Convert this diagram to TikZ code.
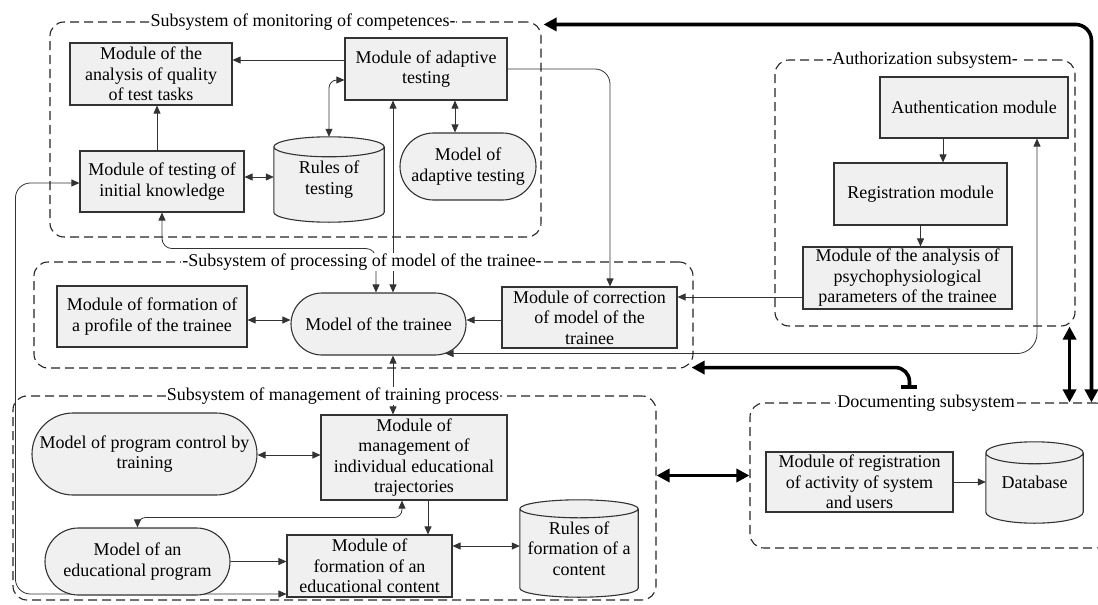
\documentclass[tikz,border=0pt]{standalone}
\usepackage{fontspec}
\setmainfont{Liberation Serif}
\newfontfamily\tnr{Liberation Serif}
\usetikzlibrary{arrows.meta,calc}
\pgfdeclarelayer{back}\pgfdeclarelayer{bg}\pgfdeclarelayer{cyl}\pgfdeclarelayer{fg}
\pgfsetlayers{back,bg,cyl,main,fg}
\newcommand\drawcyl[2]{\draw[cylst] let \p1=(#1.north west), \p2=(#1.south east), \n1={(\x2-\x1)/2} in
  (\x1,\y1-#2) -- (\x1,\y2+#2) arc[start angle=180,end angle=360,x radius=\n1,y radius=#2]
  -- (\x2,\y1-#2) arc[start angle=0,end angle=180,x radius=\n1,y radius=#2] -- cycle
  (\x1,\y1-#2) arc[start angle=180,end angle=360,x radius=\n1,y radius=#2];}
\begin{document}
\begin{tikzpicture}[x=1pt,y=1pt,font=\tnr\fontsize{18}{20.5}\selectfont,
  box/.style={draw=black!80,line width=1.1pt,fill=gray!12,align=center,inner sep=0pt},
  mod/.style={box,rectangle},
  stad/.style={box,rectangle,rounded corners=#1},
  cylbox/.style={rectangle,align=center,inner sep=0pt},
  cylst/.style={draw=black!80,line width=1.1pt,fill=gray!12},
  frame/.style={draw=black!85,line width=1.1pt,dash pattern=on 9pt off 5pt,rounded corners=14pt,inner sep=0pt},
  ttl/.style={fill=white,inner sep=1pt},
  conn/.style={draw=black!80,line width=0.8pt},
  >={Triangle[length=8pt,width=7pt]},
  thk/.style={draw=black,line width=3.6pt},
  tt/.style={{Triangle[length=13pt,width=13pt]}-{Triangle[length=13pt,width=13pt]}}]
\begin{pgfonlayer}{back}
\fill[white] (0,0) rectangle (1098,-605);
\end{pgfonlayer}
\useasboundingbox (0,0) rectangle (1098,-605);

% frames
\node[frame,minimum width=491,minimum height=215] (mon) at (295.5,-129.5) {};
\node[frame,minimum width=659,minimum height=106] (proc) at (363.5,-315) {};
\node[frame,minimum width=300,minimum height=266] (auth) at (925,-193) {};
\node[frame,minimum width=643,minimum height=204] (train) at (334.5,-498) {};
\node[frame,minimum width=360,minimum height=145] (doc) at (930,-475.5) {};

% monitoring
\node[mod,minimum width=162,minimum height=62] (ana) at (151,-74) {Module of the\\analysis of quality\\of test tasks};
\node[mod,minimum width=162,minimum height=62] (adapt) at (426,-69) {Module of adaptive\\testing};
\node[mod,minimum width=164,minimum height=61] (init) at (162,-181.5) {Module of testing of\\initial knowledge};
\node[cylbox,minimum width=110,minimum height=85] (rules) at (329,-179.5) {Rules of\\testing};
\node[stad=33.5pt,minimum width=136,minimum height=67] (madapt) at (468,-166.5) {Model of\\adaptive testing};

% processing
\node[mod,minimum width=190,minimum height=61] (prof) at (152,-316.5) {Module of formation of\\a profile of the trainee};
\node[stad=31pt,minimum width=175,minimum height=62] (trainee) at (378.5,-324) {Model of the trainee};
\node[mod,minimum width=175,minimum height=61] (corr) at (589.5,-317.5) {Module of correction\\of model of the\\trainee};

% authorization
\node[mod,minimum width=188,minimum height=61] (authm) at (974,-107.5) {Authentication module};
\node[mod,minimum width=173,minimum height=62] (reg) at (920.5,-194) {Registration module};
\node[mod,minimum width=209,minimum height=62] (psycho) at (907.5,-278) {Module of the analysis of\\psychophysiological\\parameters of the trainee};

% training
\node[stad=41pt,minimum width=225,minimum height=82] (prog) at (144.5,-454) {Model of program control by\\training};
\node[mod,minimum width=186,minimum height=85] (mgmt) at (414,-457.5) {Module of\\management of\\individual educational\\trajectories};
\node[stad=33.5pt,minimum width=185,minimum height=67] (med) at (137.5,-561.5) {Model of an\\educational program};
\node[mod,minimum width=165,minimum height=62] (form) at (369.5,-566) {Module of\\formation of an\\educational content};
\node[cylbox,minimum width=118,minimum height=97] (rform) at (579,-548.5) {Rules of\\formation of a\\content};

% documenting
\node[mod,minimum width=187,minimum height=60] (dreg) at (859.5,-482) {Module of registration\\of activity of system\\and users};
\node[cylbox,minimum width=97,minimum height=81] (db) at (1034.5,-482.5) {Database};

\begin{pgfonlayer}{cyl}
\drawcyl{rules}{10pt}
\drawcyl{rform}{9pt}
\drawcyl{db}{11pt}
\end{pgfonlayer}

\begin{pgfonlayer}{bg}
% monitoring
\draw[conn,->] ($(adapt.west)+(0,9)$) coordinate (c1) -- (c1 -| ana.east);
\draw[conn,->] ($(init.north)+(-5,0)$) coordinate (c2) -- (c2 |- ana.south);
\draw[conn,<->] ($(init.east)+(0,4.5)$) coordinate (c3) -- (c3 -| rules.west);
\draw[conn,<->,rounded corners=8] (rules.north) |- ($(adapt.west)+(0,-11)$);
\draw[conn,<->] ($(adapt.south)+(29,0)$) coordinate (c5) -- (c5 |- madapt.north);
\draw[conn,<->] ($(adapt.south)+(-33,0)$) coordinate (c6) -- (c6 |- trainee.north);
\draw[conn,<->,rounded corners=10] (init.south) -- ++(0,-36) -| ($(trainee.north)+(-2.5,0)$);
\draw[conn,->,rounded corners=15] (adapt.east) -| ($(corr.north)+(20.5,0)$);
% processing
\draw[conn,<->] ($(prof.east)+(0,-3.5)$) coordinate (c9) -- (c9 -| trainee.west);
\draw[conn,->] ($(corr.west)+(0,-2.5)$) coordinate (c10) -- (c10 -| trainee.east);
\draw[conn,->] ($(psycho.west)+(0,-19)$) coordinate (c11) -- (c11 -| corr.east);
\draw[conn,<->,rounded corners=20] ($(trainee.south)+(67,2)$) -| ($(authm.south)+(63,0)$);
% authorization
\draw[conn,->] ($(authm.south)+(-31,0)$) coordinate (c13) -- (c13 |- reg.north);
\draw[conn,->] (reg.south) -- (reg.south |- psycho.north);
% training
\draw[conn,<->] ($(trainee.south)+(14.5,0)$) coordinate (c15) -- (c15 |- mgmt.north);
\draw[conn,<->] ($(prog.east)+(0,-1)$) coordinate (c16) -- (c16 -| mgmt.west);
\draw[conn,<->,rounded corners=8] ($(mgmt.south)+(-12,0)$) -- ++(0,-17) -| (med.north);
\draw[conn,->] ($(mgmt.south)+(14,0)$) coordinate (c18) -- (c18 |- form.north);
\draw[conn,->] (med.east) -- (med.east -| form.west);
\draw[conn,<->] ($(form.east)+(0,20)$) coordinate (c20) -- (c20 -| rform.west);
\draw[conn,<->,rounded corners=15] ($(form.west)+(0,-28)$) -| ($(init.west)+(-64,-1.5)$) -- ($(init.west)+(0,-1.5)$);
% documenting
\draw[conn,->] (dreg.east) -- (dreg.east -| db.west);
% thick
\draw[thk,tt,rounded corners=16] ($(mon.north east)+(2,-3)$) -| ($(doc.north west)+(342,0)$);
\draw[thk,tt] ($(auth.south east)+(-6,0)$) coordinate (c24) -- (c24 |- doc.north);
\draw[thk,tt] (train.east |- doc.west) -- (doc.west);
\draw[thk,{Rectangle[length=4pt,width=16pt]}-{Triangle[length=13pt,width=13pt]},rounded corners=14] ($(doc.north west)+(160,13)$) |- ($(proc.south east)+(-2,1)$);
\end{pgfonlayer}

\begin{pgfonlayer}{fg}
\node[ttl] (tmon) at (303,-22) {Subsystem of monitoring of competences-};
\node[ttl] (tproc) at (362,-262) {-Subsystem of processing of model of the trainee-};
\node[ttl] (tauth) at (922,-60) {-Authorization subsystem-};
\node[ttl] (ttrain) at (333,-396) {Subsystem of management of training process};
\node[ttl] (tdoc) at (926,-403) {Documenting subsystem};
\end{pgfonlayer}
\end{tikzpicture}
\end{document}
